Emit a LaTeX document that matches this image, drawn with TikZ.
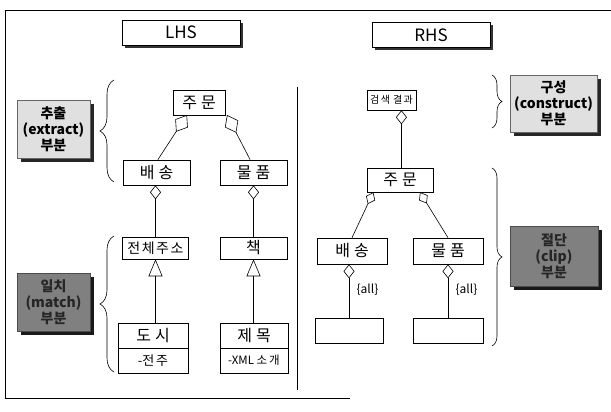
\documentclass[tikz,border=0pt]{standalone}
\usepackage{fontspec}
\setmainfont{Noto Sans CJK KR}
\usetikzlibrary{arrows.meta,shadows,decorations.pathreplacing,calc}
\newcommand{\gp}{\hspace{4pt}}
\begin{document}
\begin{tikzpicture}[x=1pt,y=-1pt,
  line width=0.6pt,
  cls/.style={draw, fill=white, inner sep=0pt, font=\fontsize{16}{18}\selectfont},
  hdr/.style={draw, fill=white, inner sep=0pt, minimum width=118, minimum height=25,
     font=\fontsize{17}{19}\selectfont,
     drop shadow={fill=black!80, opacity=1, shadow xshift=3pt, shadow yshift=-3pt}},
  lightlbl/.style={draw=black!60, fill=black!12, inner sep=0pt, align=center,
     font=\fontsize{14}{16}\bfseries\selectfont,
     drop shadow={fill=black!85, opacity=1, shadow xshift=4pt, shadow yshift=-4pt}},
  darklbl/.style={draw=black!70, fill=black!50, inner sep=0pt, align=center,
     font=\fontsize{14}{16}\bfseries\selectfont, text=black!85,
     drop shadow={fill=black!90, opacity=1, shadow xshift=4pt, shadow yshift=-4pt}},
  agg/.style={{Diamond[open,length=14pt,width=11pt]}-},
  aggt/.style={{Diamond[open,length=20pt,width=15pt]}-},
  gen/.style={-{Triangle[open,length=17pt,width=14pt]}},
  brc/.style={decorate, decoration={brace, amplitude=#1}},
]
\useasboundingbox (0,0) rectangle (611,412);

% frame and divider
\draw (611,10) -- (5,10) -- (5,398) -- (350,398);
\draw (297,87) -- (297,390);

% headers
\node[hdr] (lhs) at (181,32.5) {LHS};
\node[hdr] (rhs) at (431,35) {RHS};

% LHS classes
\node[cls, minimum width=52, minimum height=25] (ju1) at (199,102.5) {주\gp 문};
\node[cls, minimum width=67, minimum height=25] (bs1) at (156.5,172.5) {배\gp 송};
\node[cls, minimum width=67, minimum height=25] (mp1) at (253.5,172.5) {물\gp 품};
\node[cls, minimum width=66, minimum height=22, font=\fontsize{14}{16}\selectfont] (addr) at (155.5,248) {전\hspace{1.5pt}체\hspace{1.5pt}주\hspace{1.5pt}소};
\node[cls, minimum width=67, minimum height=22] (book) at (253.5,248) {책};
\node[cls, minimum width=70, minimum height=25] (dosi) at (153,335.5) {도\gp 시};
\node[cls, minimum width=70, minimum height=25, font=\fontsize{13}{15}\selectfont] (dosia) at (153,360.5) {-전\hspace{2pt}주};
\node[cls, minimum width=68, minimum height=25] (title) at (254,335.5) {제\gp 목};
\node[cls, minimum width=68, minimum height=25, font=\fontsize{11.5}{13}\selectfont] (titlea) at (254,360.5) {-XML 소\hspace{2pt}개};

\coordinate (ju1l) at (187,115);
\coordinate (ju1r) at (227,115);
\draw[aggt] (ju1l) -- ($(bs1.north west)!0.52!(bs1.north east)$);
\draw[aggt] (ju1r) -- ($(mp1.north west)!0.45!(mp1.north east)$);
\draw[agg] (bs1.south -| addr) -- (addr);
\draw[agg] (mp1.south) -- (book);
\draw[gen] (dosi.north -| addr) -- (addr);
\draw[gen] (title.north -| book) -- (book);

% LHS labels and braces
\node[lightlbl, minimum width=73, minimum height=58] (ext) at (53.5,129) {추출\\(extract)\\부분};
\node[darklbl, minimum width=73, minimum height=58] (mat) at (53.5,302) {일치\\(match)\\부분};
\draw[brc=14pt] (114,182) -- (114,80);
\draw[brc=14pt] (114,372) -- (114,236);

% RHS classes
\node[cls, minimum width=49, minimum height=20, font=\fontsize{10}{12}\selectfont] (res) at (391.5,100) {검\hspace{1.5pt}색\hspace{3pt}결\hspace{1.5pt}과};
\node[cls, minimum width=66, minimum height=24] (ju2) at (400,180) {주\gp 문};
\node[cls, minimum width=70, minimum height=26] (bs2) at (352,251) {배\gp 송};
\node[cls, minimum width=70, minimum height=26] (mp2) at (448,251) {물\gp 품};
\node[cls, minimum width=68, minimum height=25] (e1) at (349,330.5) {};
\node[cls, minimum width=70, minimum height=25] (e2) at (448,330.5) {};

\draw[agg] ($(res.south west)!0.7!(res.south east)$) -- (ju2.north -| {$(res.south west)!0.7!(res.south east)$});
\coordinate (ju2l) at ($(ju2.south west)!0.1!(ju2.south east)$);
\coordinate (ju2r) at ($(ju2.south west)!0.8!(ju2.south east)$);
\draw[{Diamond[open,length=13pt,width=10pt]}-] (ju2l) -- (bs2.north);
\draw[{Diamond[open,length=13pt,width=10pt]}-] (ju2r) -- (mp2.north);
\draw[agg] (bs2.south -| e1) -- (e1) node[pos=0.48, right=4pt, font=\fontsize{12}{14}\selectfont] (all1) {\{all\}};
\draw[agg] (mp2.south) -- (e2) node[pos=0.48, right=4pt, font=\fontsize{12}{14}\selectfont] (all2) {\{all\}};

% RHS labels and braces
\node[lightlbl, minimum width=87, minimum height=57] (con) at (553.5,103.5) {구성\\(construct)\\부분};
\node[darklbl, minimum width=88, minimum height=60] (clip) at (554,256) {절단\\(clip)\\부분};
\draw[brc=10pt] (492,75) -- (492,128);
\draw[brc=10pt] (492,168) -- (492,346);
\end{tikzpicture}
\end{document}
